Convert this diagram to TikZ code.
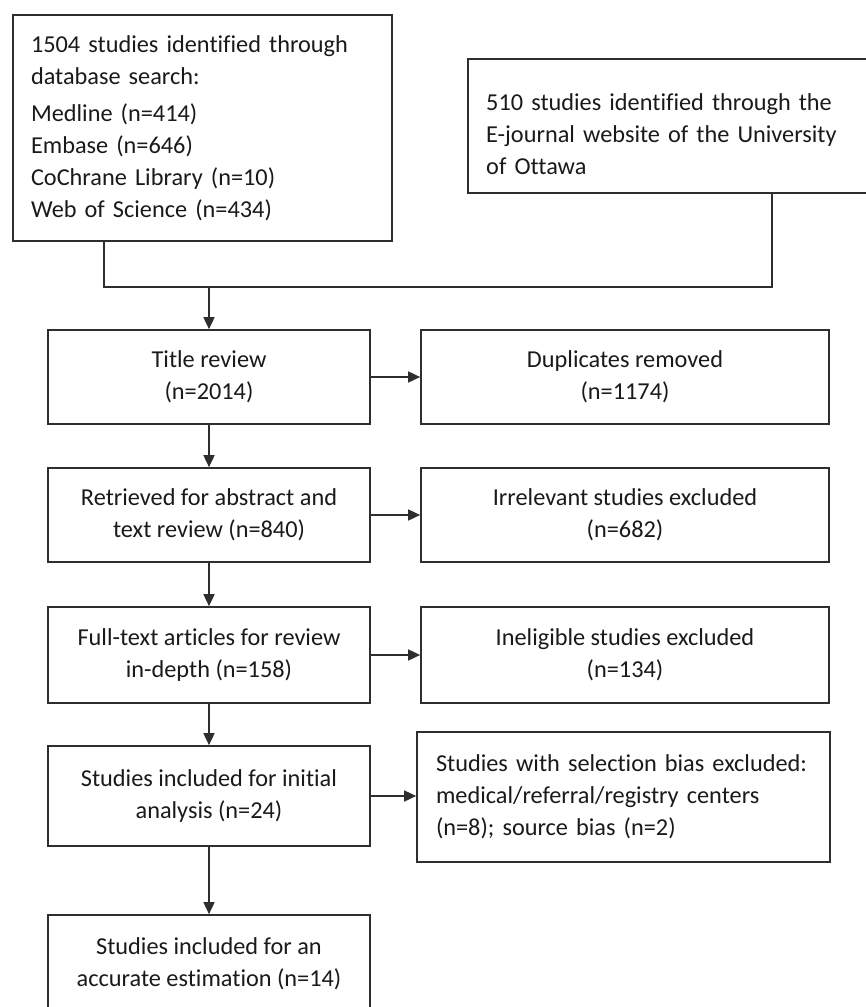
\documentclass[tikz,border=0pt]{standalone}
\usepackage{fontspec}
\setmainfont{Carlito}[Ligatures=NoCommon]
\usetikzlibrary{arrows.meta}
\definecolor{linec}{HTML}{2E2E2E}
\definecolor{textc}{HTML}{1A1A1A}
\begin{document}
\begin{tikzpicture}[x=1pt,y=-1pt,
  box/.style={draw=linec, line width=1.7pt, inner sep=0pt, text=textc,
    font=\fontsize{24.3}{31.8}\selectfont},
  lbl/.style={inner sep=0pt, text=textc, font=\fontsize{24.3}{31.8}\selectfont},
  ln/.style={draw=linec, line width=1.7pt},
  arr/.style={draw=linec, line width=1.7pt, -{Triangle[length=12pt,width=11pt]}}]
\useasboundingbox (0,0) rectangle (866,1007);
\fill[white] (0,0) rectangle (866,1007);
\clip (0,0) rectangle (866,1007);
% top boxes
\node[box, minimum width=379pt, minimum height=226pt, text width=343pt, align=left]
  (b1) at (202.5,128) {1504 studies identified through\\ database search:\\[6pt]
  Medline (n=414)\\ Embase (n=646)\\ CoChrane Library (n=10)\\ Web of Science (n=434)};
\node[box, minimum width=432pt, minimum height=134pt] (b2) at (684,126) {};
\node[lbl, text width=380pt, align=left, anchor=west] (b2t) at (486,134)
  {510 studies identified through the\\ E-journal website of the University\\ of Ottawa};
% left column
\node[box, minimum width=322pt, minimum height=94pt, align=center] (t1) at (209,377)
  {Title review\\ (n=2014)};
\node[box, minimum width=322pt, minimum height=94pt, align=center] (t2) at (209,515)
  {Retrieved for abstract and\\ text review (n=840)};
\node[box, minimum width=322pt, minimum height=96pt, align=center] (t3) at (209,655)
  {Full-text articles for review\\ in-depth (n=158)};
\node[box, minimum width=322pt, minimum height=100pt, align=center] (t4) at (209,796)
  {Studies included for initial\\ analysis (n=24)};
\node[box, minimum width=322pt, minimum height=97pt, align=center] (t5) at (209,963.5)
  {Studies included for an\\ accurate estimation (n=14)};
% right column
\node[box, minimum width=408pt, minimum height=94pt, align=center] (d1) at (625,377)
  {Duplicates removed\\ (n=1174)};
\node[box, minimum width=408pt, minimum height=94pt, align=center] (d2) at (625,515)
  {Irrelevant studies excluded\\ (n=682)};
\node[box, minimum width=408pt, minimum height=96pt, align=center] (d3) at (625,655)
  {Ineligible studies excluded\\ (n=134)};
\node[box, minimum width=413pt, minimum height=130pt, text width=375pt, align=left] (d4) at (623.5,797)
  {Studies with selection bias excluded:\\ medical/referral/registry centers\\ (n=8); source bias (n=2)};
% connectors
\coordinate (jn) at (209,287);
\draw[ln] ([xshift=92pt]b1.south west) |- (jn) -| ([xshift=305pt]b2.south west);
\draw[arr] (jn) -- (t1.north);
\draw[arr] (t1) -- (t2);
\draw[arr] (t2) -- (t3);
\draw[arr] (t3) -- (t4);
\draw[arr] (t4) -- (t5);
\draw[arr] (t1.east) -- (d1.west);
\draw[arr] (t2.east) -- (d2.west);
\draw[arr] (t3.east) -- (d3.west);
\draw[arr] (t4.east) -- (d4.west |- t4.east);
\end{tikzpicture}
\end{document}
